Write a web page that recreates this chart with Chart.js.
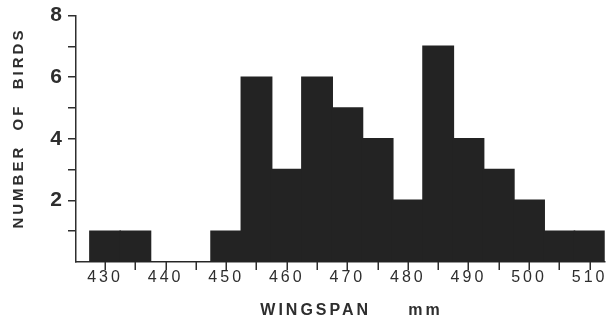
<!DOCTYPE html>
<html>
<head>
<meta charset="utf-8">
<script src="https://cdn.jsdelivr.net/npm/chart.js@4.4.1/dist/chart.umd.min.js"></script>
<style>
  html, body { margin: 0; padding: 0; background: #fff; }
  #wrap { width: 609px; height: 323px; }
</style>
</head>
<body>
<div id="wrap"><canvas id="myChart" width="609" height="323"></canvas></div>
<script>
// wingspan bins (mm, bin centres) and number of birds in each
const wingspanBins = [430, 435, 440, 445, 450, 455, 460, 465, 470, 475, 480, 485, 490, 495, 500, 505, 510];
const birdCounts   = [1, 1, 0, 0, 1, 6, 3, 6, 5, 4, 2, 7, 4, 3, 2, 1, 1];
const xTickValues  = [430, 440, 450, 460, 470, 480, 490, 500, 510];
const yTickValues  = [2, 4, 6, 8];

const ink = '#2e2e2e';
const ctx = document.getElementById('myChart').getContext('2d');

// spread the letters a bit like the old typeset labels
const spacing = {
    id: 'spacing',
    beforeDraw(chart) {
        chart.ctx.letterSpacing = '3px';
    }
};

// small tick marks under the x axis, one per 5 mm bin
const xTickMarks = {
    id: 'xTickMarks',
    afterDraw(chart) {
        const xs = chart.scales.x;
        const c = chart.ctx;
        c.save();
        c.strokeStyle = ink;
        c.lineWidth = 1.5;
        c.beginPath();
        wingspanBins.forEach(v => {
            const px = Math.round(xs.getPixelForValue(v)) + 0.25;
            c.moveTo(px, xs.top);
            c.lineTo(px, xs.top + 8);
        });
        c.stroke();
        c.restore();
    }
};

new Chart(ctx, {
    type: 'bar',
    data: {
        datasets: [{
            data: wingspanBins.map((b, i) => ({ x: b, y: birdCounts[i] })),
            backgroundColor: '#232323',
            borderWidth: 0,
            inflateAmount: 0.8,
            barPercentage: 1,
            categoryPercentage: 1
        }]
    },
    options: {
        responsive: false,
        animation: false,
        layout: { padding: { top: 15, right: 2, left: 0, bottom: 0 } },
        plugins: { legend: { display: false }, tooltip: { enabled: false } },
        scales: {
            x: {
                type: 'linear',
                min: 425.2,
                max: 512.5,
                offset: false,
                afterBuildTicks: s => { s.ticks = wingspanBins.map(v => ({ value: v })); },
                afterFit: s => { s.height = 61; },
                ticks: {
                    autoSkip: false,
                    maxRotation: 0,
                    padding: 6,
                    color: ink,
                    font: { family: 'Liberation Sans', size: 16 },
                    callback: v => xTickValues.includes(v) ? String(v) : ''
                },
                grid: { display: true, offset: false, drawOnChartArea: false, drawTicks: false, tickLength: 8, color: ink, lineWidth: 1.5 },
                border: { display: true, color: ink, width: 1.5 },
                title: {
                    display: true,
                    text: '   WINGSPAN     mm',
                    color: ink,
                    font: { family: 'Liberation Sans', size: 16, weight: 'bold' },
                    padding: { top: 0, bottom: 3 }
                }
            },
            y: {
                min: 0,
                max: 8,
                afterBuildTicks: s => { s.ticks = [1, 2, 3, 4, 5, 6, 7, 8].map(v => ({ value: v })); },
                afterFit: s => { s.width = 76; },
                ticks: {
                    autoSkip: false,
                    padding: 3,
                    color: ink,
                    font: { family: 'Liberation Sans', size: 21, weight: 'bold' },
                    callback: v => yTickValues.includes(v) ? String(v) : ''
                },
                grid: { drawOnChartArea: false, drawTicks: true, tickLength: 8, tickColor: ink, tickWidth: 1.5, color: ink, lineWidth: 1.5 },
                border: { display: true, color: ink, width: 1.5 },
                title: {
                    display: true,
                    text: '   NUMBER  OF  BIRDS',
                    color: ink,
                    font: { family: 'Liberation Sans', size: 15, weight: 'bold' },
                    padding: { top: 10, bottom: 0 }
                }
            }
        }
    },
    plugins: [spacing, xTickMarks]
});
</script>
</body>
</html>
